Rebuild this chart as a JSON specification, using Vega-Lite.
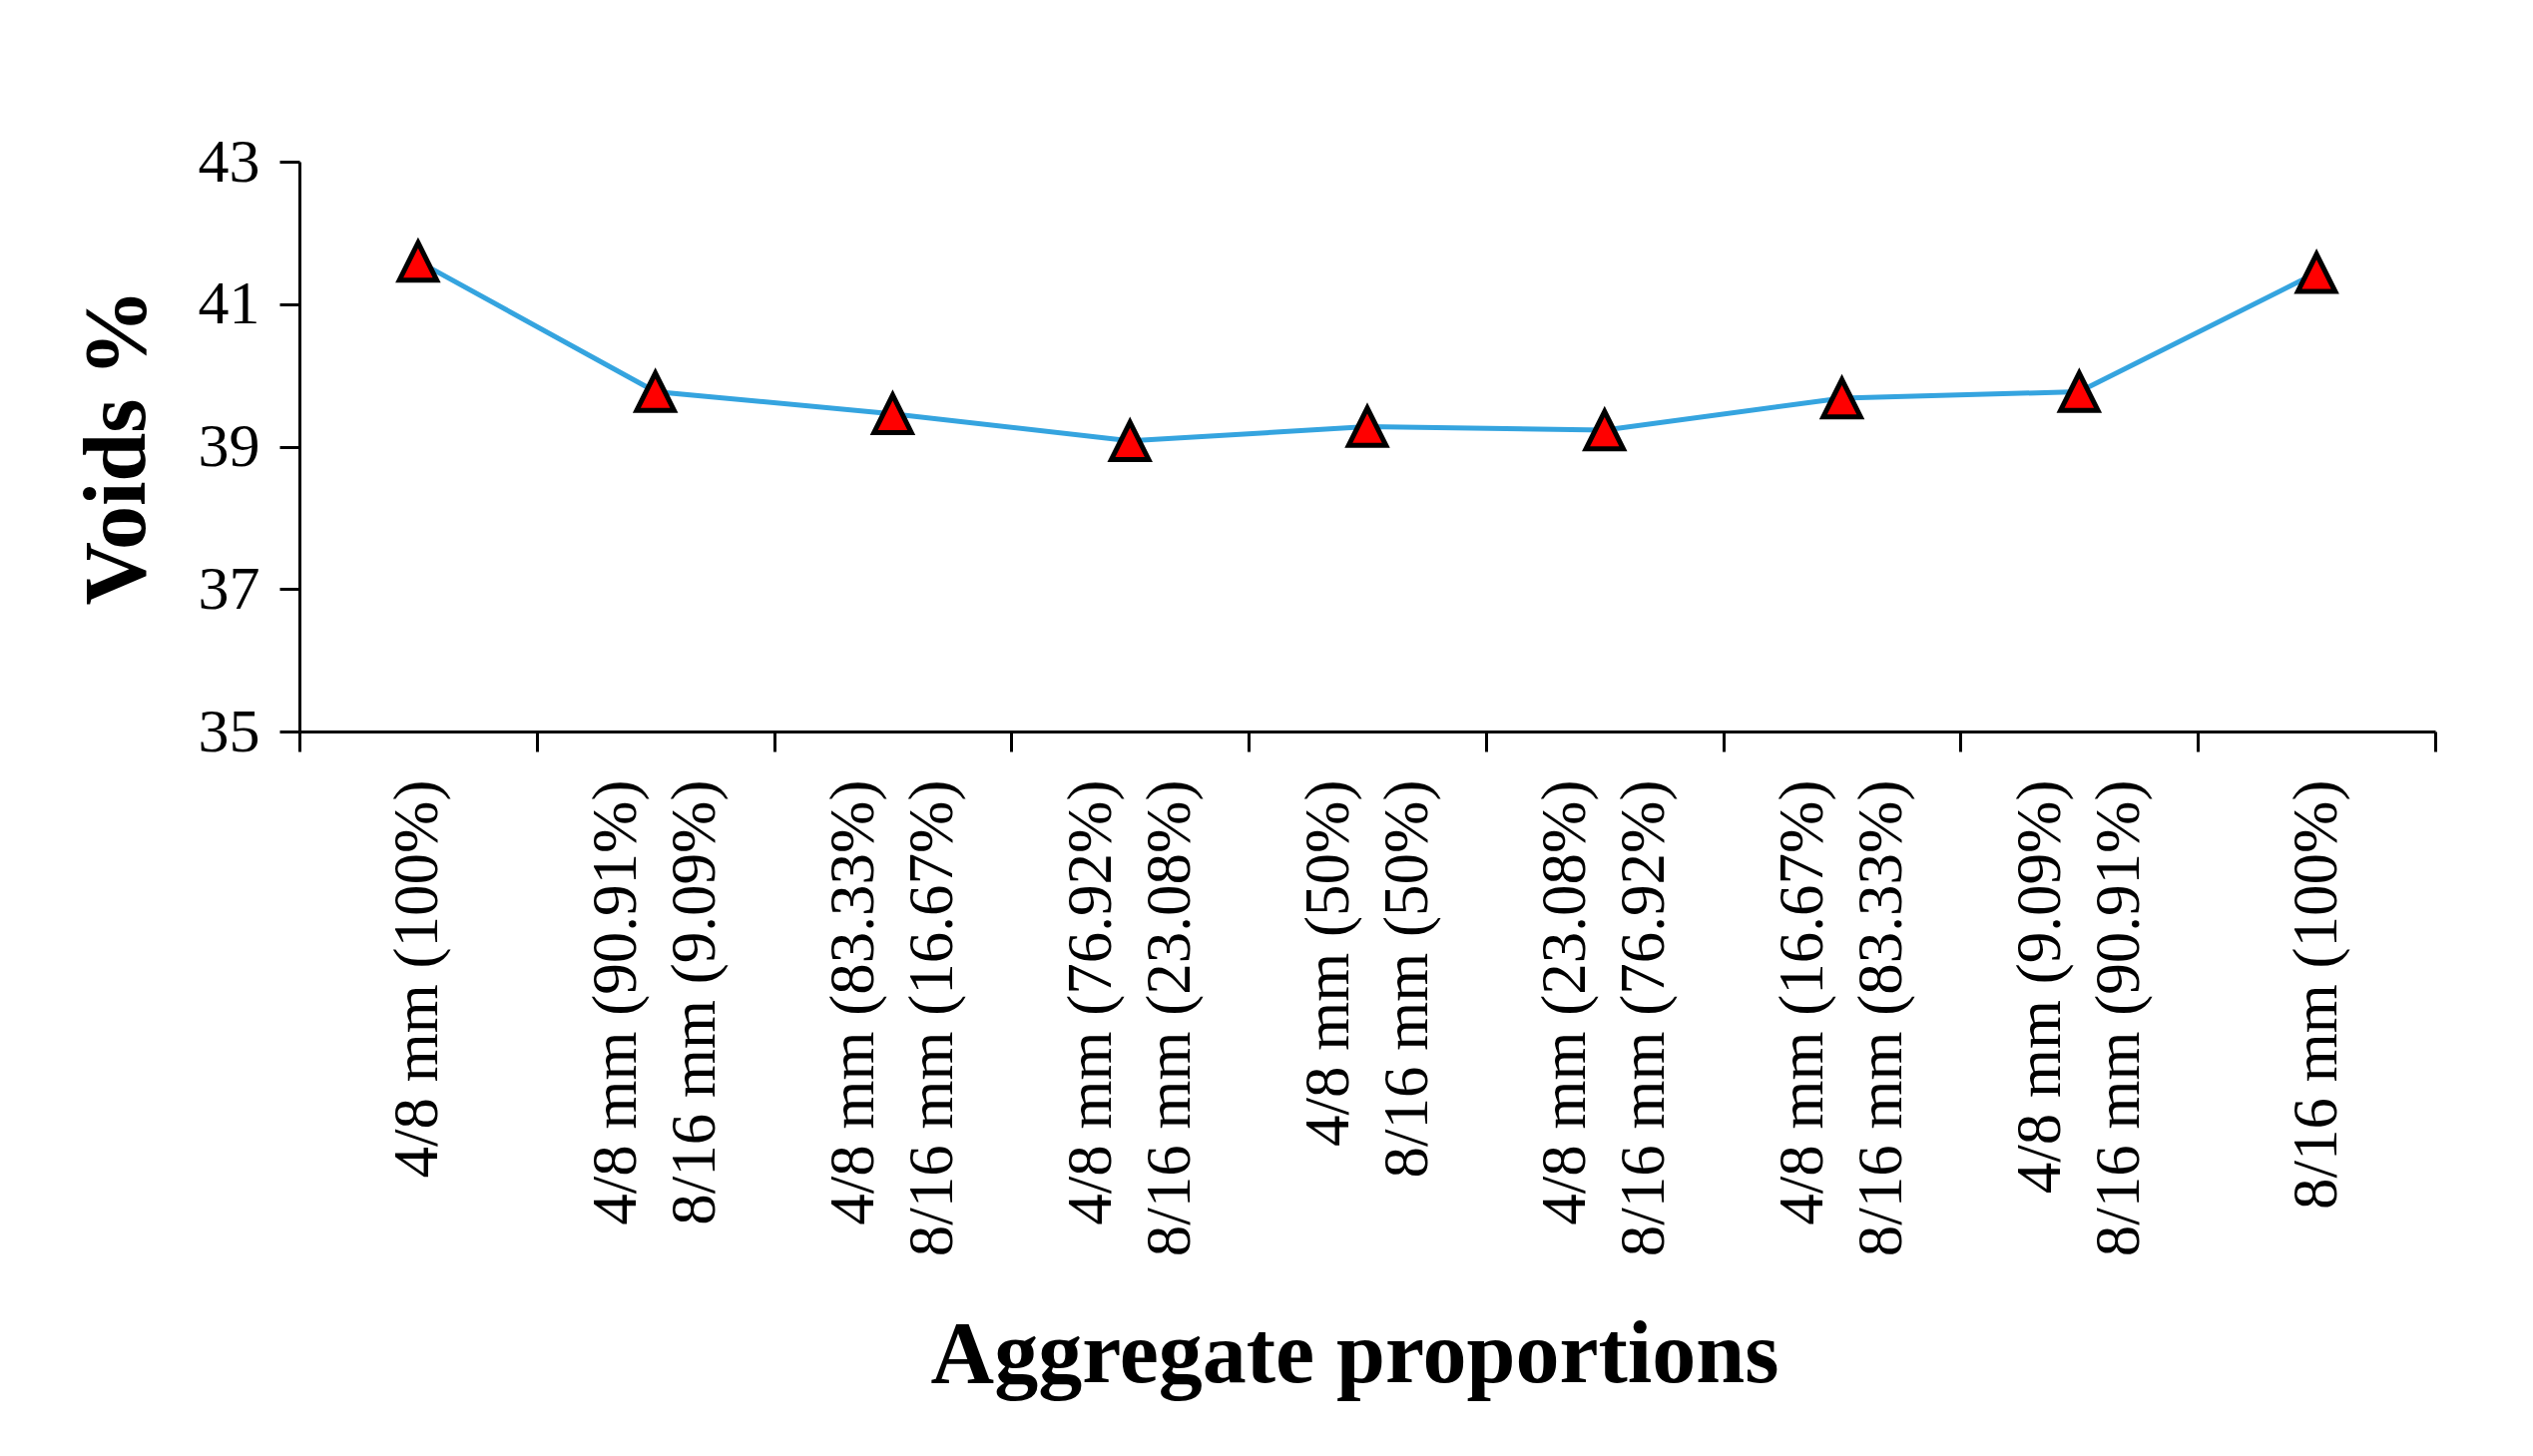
{
  "$schema": "https://vega.github.io/schema/vega-lite/v6.json",
  "autosize": {"type": "none"},
  "width": 2140,
  "height": 571,
  "padding": {"left": 300, "top": 162, "right": 98, "bottom": 726},
  "background": "white",
  "data": {
    "values": [
      {"mix": "4/8 mm (100%)", "voids": 41.6},
      {"mix": "4/8 mm (90.91%)\n8/16 mm (9.09%)", "voids": 39.77},
      {"mix": "4/8 mm (83.33%)\n8/16 mm (16.67%)", "voids": 39.46},
      {"mix": "4/8 mm (76.92%)\n8/16 mm (23.08%)", "voids": 39.08},
      {"mix": "4/8 mm (50%)\n8/16 mm (50%)", "voids": 39.28},
      {"mix": "4/8 mm (23.08%)\n8/16 mm (76.92%)", "voids": 39.23},
      {"mix": "4/8 mm (16.67%)\n8/16 mm (83.33%)", "voids": 39.68},
      {"mix": "4/8 mm (9.09%)\n8/16 mm (90.91%)", "voids": 39.77},
      {"mix": "8/16 mm (100%)", "voids": 41.44}
    ]
  },
  "encoding": {
    "x": {
      "field": "mix",
      "type": "nominal",
      "sort": null,
      "scale": {"type": "band", "paddingInner": 0, "paddingOuter": 0},
      "axis": {
        "title": "Aggregate proportions",
        "titleFont": "Liberation Serif",
        "titleFontSize": 88,
        "titleFontWeight": "bold",
        "titleColor": "black",
        "titleBaseline": "alphabetic",
        "titleAlign": "center",
        "titleX": 1057,
        "titleY": 651,
        "labelExpr": "split(datum.label, '\\n')",
        "labelAngle": -90,
        "labelAlign": "right",
        "labelBaseline": "middle",
        "labelFont": "Liberation Serif",
        "labelFontSize": 63,
        "labelLineHeight": 79,
        "labelColor": "black",
        "labelPadding": 28,
        "labelLimit": 0,
        "labelOverlap": false,
        "labelOffset": {"condition": {"test": "indexof(datum.label, '\\n') >= 0", "value": -39}, "value": 0},
        "tickBand": "extent",
        "tickSize": 20,
        "tickWidth": 3,
        "tickColor": "black",
        "domainColor": "black",
        "domainWidth": 3,
        "grid": false
      }
    },
    "y": {
      "field": "voids",
      "type": "quantitative",
      "scale": {"domain": [35, 43], "nice": false, "zero": false},
      "axis": {
        "title": "Voids %",
        "titleFont": "Liberation Serif",
        "titleFontSize": 88,
        "titleFontWeight": "bold",
        "titleColor": "black",
        "titlePadding": 36,
        "values": [35, 37, 39, 41, 43],
        "labelFont": "Liberation Serif",
        "labelFontSize": 62,
        "labelColor": "black",
        "labelPadding": 20,
        "tickSize": 20,
        "tickWidth": 3,
        "tickColor": "black",
        "domainColor": "black",
        "domainWidth": 3,
        "grid": false
      }
    }
  },
  "layer": [
    {"mark": {"type": "line", "color": "#35A4DF", "strokeWidth": 5}},
    {
      "mark": {
        "type": "point",
        "shape": "M0,-1L1,1L-1,1Z",
        "filled": true,
        "fill": "#FF0000",
        "stroke": "black",
        "strokeWidth": 5,
        "size": 1400,
        "opacity": 1
      }
    }
  ],
  "config": {"view": {"stroke": null}}
}
